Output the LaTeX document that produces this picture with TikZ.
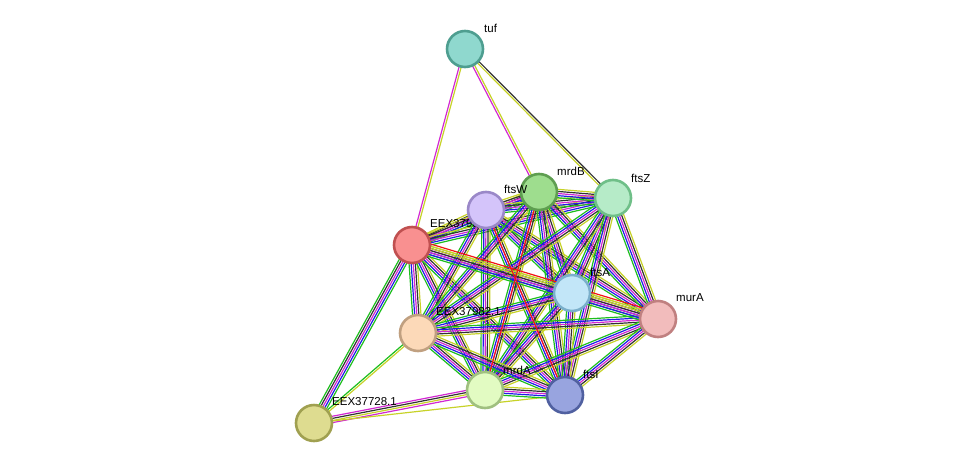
\documentclass[tikz,border=0pt]{standalone}
\usepackage{fontspec}
\setmainfont{Liberation Sans}
\usetikzlibrary{calc}
\definecolor{tm}{RGB}{199,210,40}
\definecolor{ex}{RGB}{210,40,210}
\definecolor{nb}{RGB}{30,190,30}
\definecolor{cb}{RGB}{30,30,230}
\definecolor{co}{RGB}{50,50,50}
\definecolor{fu}{RGB}{240,20,20}
\tikzset{prot/.style={circle,minimum size=36pt,inner sep=0pt,line width=2.6pt},
 lab/.style={anchor=west,font=\fontsize{11.5}{13}\selectfont,inner sep=0pt}}
\newcommand\bund[3]{%
 \foreach \c [count=\i] in {#3}{\xdef\nn{\i}}%
 \foreach \c [count=\i] in {#3}{%
  \pgfmathsetmacro\off{(\i-(\nn+1)/2)*2.1}%
  \draw[\c,line width=1.2pt] ($(#1)!\off pt!90:(#2)$) -- ($(#2)!\off pt!-90:(#1)$);}}
\begin{document}
\begin{tikzpicture}[x=1pt,y=-1pt]
\useasboundingbox (0,0) rectangle (976,469);
\coordinate (tuf) at (465,49);
\coordinate (mrdB) at (539,192);
\coordinate (ftsZ) at (613,198);
\coordinate (ftsW) at (486,210);
\coordinate (E1) at (412,245);
\coordinate (ftsA) at (572,293);
\coordinate (murA) at (658,319);
\coordinate (E2) at (418,333);
\coordinate (mrdA) at (485,390);
\coordinate (ftsI) at (565,395);
\coordinate (E3) at (314,423);
% edges
\bund{tuf}{E1}{ex,tm}
\bund{tuf}{mrdB}{ex,tm}
\bund{tuf}{ftsZ}{tm,co}
\bund{E3}{E1}{nb,cb,ex,co,nb}
\bund{E3}{E2}{tm,nb}
\bund{E3}{mrdA}{ex,tm,co,ex}
\bund{E3}{ftsI}{tm}
\foreach \a/\b in {E1/ftsW,E1/mrdB,E1/ftsZ,E1/ftsA,E1/E2,E1/mrdA,E1/ftsI,
 ftsW/mrdB,ftsW/ftsZ,ftsW/ftsA,ftsW/murA,ftsW/E2,ftsW/mrdA,ftsW/ftsI,
 mrdB/ftsZ,mrdB/ftsA,mrdB/murA,mrdB/E2,mrdB/mrdA,mrdB/ftsI,
 ftsZ/ftsA,ftsZ/murA,ftsZ/E2,ftsZ/mrdA,ftsZ/ftsI,
 ftsA/murA,ftsA/E2,ftsA/mrdA,ftsA/ftsI,
 murA/E2,murA/mrdA,murA/ftsI,
 E2/mrdA,E2/ftsI,mrdA/ftsI}{\bund{\a}{\b}{nb,cb,ex,co,tm}}
\bund{E1}{murA}{nb,cb,ex,co,tm,tm,fu}
\bund{mrdB}{mrdA}{fu}
\bund{ftsW}{ftsI}{fu}
% nodes
\node[prot,draw={rgb,255:red,78;green,158;blue,144},fill={rgb,255:red,143;green,216;blue,206}] (ntuf) at (tuf) {};
\node[lab] at (484,28) {tuf};
\node[prot,draw={rgb,255:red,94;green,158;blue,80},fill={rgb,255:red,158;green,221;blue,142}] (nmrdB) at (mrdB) {};
\node[lab] at (557,171) {mrdB};
\node[prot,draw={rgb,255:red,111;green,191;blue,136},fill={rgb,255:red,182;green,235;blue,200}] (nftsZ) at (ftsZ) {};
\node[lab] at (631,178) {ftsZ};
\node[prot,draw={rgb,255:red,192;green,80;blue,80},fill={rgb,255:red,249;green,144;blue,144}] (nE1) at (E1) {};
\node[lab] at (430,224) {EEX37981.1};
\node[prot,draw={rgb,255:red,154;green,136;blue,200},fill={rgb,255:red,212;green,196;blue,250}] (nftsW) at (ftsW) {};
\node[lab] at (504,189) {ftsW};
\node[prot,draw={rgb,255:red,122;green,175;blue,203},fill={rgb,255:red,194;green,230;blue,248}] (nftsA) at (ftsA) {};
\node[lab] at (590,272) {ftsA};
\node[prot,draw={rgb,255:red,192;green,128;blue,128},fill={rgb,255:red,242;green,188;blue,188}] (nmurA) at (murA) {};
\node[lab] at (676,298) {murA};
\node[prot,draw={rgb,255:red,192;green,160;blue,128},fill={rgb,255:red,252;green,217;blue,184}] (nE2) at (E2) {};
\node[lab] at (436,312) {EEX37982.1};
\node[prot,draw={rgb,255:red,160;green,192;blue,128},fill={rgb,255:red,226;green,251;blue,194}] (nmrdA) at (mrdA) {};
\node[lab] at (503,370) {mrdA};
\node[prot,draw={rgb,255:red,80;green,96;blue,160},fill={rgb,255:red,152;green,164;blue,223}] (nftsI) at (ftsI) {};
\node[lab] at (583,374) {ftsI};
\node[prot,draw={rgb,255:red,160;green,160;blue,80},fill={rgb,255:red,222;green,220;blue,144}] (nE3) at (E3) {};
\node[lab] at (332,402) {EEX37728.1};
\end{tikzpicture}
\end{document}
